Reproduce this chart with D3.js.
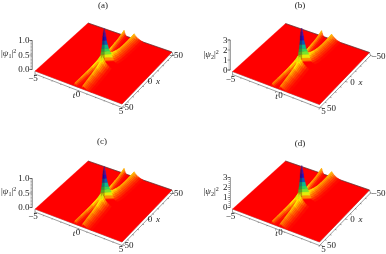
<!DOCTYPE html>
<html>
<head>
<style>
html, body { margin:0; padding:0; background:#fff; }
svg { display:block; filter:blur(0.4px); }
text { font-family:"Liberation Serif", serif; font-size:9px; fill:#222; }
</style>
</head>
<body>
<div id="stage"></div>
<script src="https://cdn.jsdelivr.net/npm/d3@7"></script>
<script>

// ridge samples, x along the ridge, t = position across it
var frontX = [50, 40, 30, 20, 10, 5];
var frontLeftT = [-0.4, -0.35, -0.3, -0.24, -0.17, -0.13];
var frontRightT = [0.5, 0.42, 0.34, 0.26, 0.16, 0.1];
var backLeftX = [-5, -12, -20, -28, -35, -43, -50];
var backLeftT = [-0.1, -0.22, -0.35, -0.44, -0.52, -0.62, -0.7];
var backRightX = [-5, -10, -16, -22, -30, -40, -50];
var backRightT = [0.2, 0.33, 0.4, 0.45, 0.47, 0.49, 0.5];

// heights, |psi1|^2
var psi1Front = [0.12, 0.14, 0.16, 0.19, 0.24, 0.3];
var psi1BackLeft = [0.26, 0.2, 0.17, 0.16, 0.15, 0.16, 0.18];
var psi1BackRight = [0.26, 0.22, 0.18, 0.16, 0.15, 0.16, 0.18];
var psi1PeakZ = [0.04, 0.07, 0.17, 0.28, 0.38, 0.48, 0.62, 0.76, 0.9, 1.03, 1.17];

// heights, |psi2|^2
var psi2Front = [0.36, 0.42, 0.48, 0.57, 0.72, 0.9];
var psi2BackLeft = [0.78, 0.6, 0.51, 0.48, 0.45, 0.48, 0.54];
var psi2BackRight = [0.78, 0.66, 0.54, 0.48, 0.45, 0.48, 0.54];
var psi2PeakZ = [0.12, 0.21, 0.5, 0.84, 1.14, 1.44, 1.86, 2.28, 2.7, 3.09, 3.5];

// peak width left and right of its centre, in t
var peakLeft = [0.42, 0.38, 0.33, 0.29, 0.25, 0.21, 0.17, 0.14, 0.12, 0.09, 0];
var peakRight = [0.85, 0.78, 0.68, 0.58, 0.47, 0.36, 0.27, 0.18, 0.14, 0.09, 0];

// cross section of a ridge, share of its height
var narrowOffset = [-0.14, -0.07, 0, 0.05, 0.1, 0.17, 0.28];
var narrowLevel = [0, 0.5, 1, 0.8, 0.52, 0.22, 0];
var wideOffset = [-0.15, -0.08, 0, 0.08, 0.18, 0.3, 0.45, 0.62, 0.82, 1.05];
var wideLevel = [0, 0.5, 1, 0.85, 0.68, 0.52, 0.36, 0.22, 0.1, 0];

var panelNames = ["(a)", "(b)", "(c)", "(d)"];
var zDomains = [[0, 1], [0, 3], [0, 1], [0, 3]];
var zFormats = [".1f", "d", ".1f", "d"];
var zLabels = ["1", "2", "1", "2"];

var width = 386, height = 254;
var svg = d3.select("#stage").append("svg").attr("width", width).attr("height", height);

var ox = [0, 197.5, 0, 197.5];
var oy = [0, 0.5, 138, 138];
var titleX = [103, 300, 102, 300];
var titleY = [8, 8, 144, 146];

var tScale = d3.scaleLinear().domain([-5, 5]).range([0, 1]);
var xScale = d3.scaleLinear().domain([50, -50]).range([0, 1]);
var hue = d3.scaleLinear()
    .domain([0, 0.17, 0.33, 0.5, 0.67, 0.85, 1])
    .range(["#ff0000", "#ffee00", "#40e040", "#00b0a0", "#1010d0", "#5a10a0", "#70209a"]);

// plane corners of panel (a)
var cLeft = [35, 71], cBottom = [122, 104], cRight = [172, 52], cTop = [88, 23];

function project(t, x, zPx) {
    var u = tScale(t), v = xScale(x);
    var a = d3.interpolateNumber(cLeft[0], cBottom[0])(u);
    var b = d3.interpolateNumber(cTop[0], cRight[0])(u);
    var c = d3.interpolateNumber(cLeft[1], cBottom[1])(u);
    var d = d3.interpolateNumber(cTop[1], cRight[1])(u);
    return [a + (b - a) * v, c + (d - c) * v + zPx];
}

function poly(g, pts, fill) {
    g.append("polygon")
        .attr("points", pts.map(function(p){ return p[0].toFixed(2) + "," + p[1].toFixed(2); }).join(" "))
        .attr("fill", fill)
        .attr("stroke", fill)
        .attr("stroke-width", 0.3);
}

function drawRidge(g, xs, ts, zs, offs, levels, zPx, peak) {
    // back to front so nearer slices cover the others
    var idx = d3.range(xs.length).sort(function(a, b){ return xs[a] - xs[b]; });
    d3.pairs(idx).forEach(function(pair) {
        var i = pair[0], j = pair[1];
        d3.pairs(d3.range(offs.length)).forEach(function(k) {
            var a = k[0], b = k[1];
            var mean = (levels[a] + levels[b]) / 2 * (zs[i] + zs[j]) / 2;
            poly(g, [
                project(ts[i] + offs[a], xs[i], zPx(levels[a] * zs[i])),
                project(ts[i] + offs[b], xs[i], zPx(levels[b] * zs[i])),
                project(ts[j] + offs[b], xs[j], zPx(levels[b] * zs[j])),
                project(ts[j] + offs[a], xs[j], zPx(levels[a] * zs[j]))
            ], hue(mean / peak));
        });
    });
}

function drawPeak(g, zs, zPx, peak) {
    // slices from the foot up, left half in shade
    d3.pairs(d3.range(zs.length)).forEach(function(p) {
        var i = p[0], j = p[1];
        var col = hue((zs[i] + zs[j]) / 2 / peak);
        var l0 = project(-peakLeft[i], 7.2 * peakLeft[i], zPx(zs[i]));
        var l1 = project(-peakLeft[j], 7.2 * peakLeft[j], zPx(zs[j]));
        var r0 = project(peakRight[i], -7.2 * peakRight[i], zPx(zs[i]));
        var r1 = project(peakRight[j], -7.2 * peakRight[j], zPx(zs[j]));
        var m0 = project(0, 0, zPx(zs[i]));
        var m1 = project(0, 0, zPx(zs[j]));
        poly(g, [m0, r0, r1, m1], col);
        poly(g, [l0, m0, m1, l1], d3.color(col).darker(0.9).formatHex());
    });
}

function drawPanel(n) {
    var g = svg.append("g").attr("transform", "translate(" + ox[n] + "," + oy[n] + ")");
    var isFirst = n % 2 == 0;
    var pxPerUnit = isFirst ? 29 : 10;
    var zPx = d3.scaleLinear().domain([0, 1]).range([0, -pxPerUnit]);
    var peakZ = isFirst ? psi1PeakZ : psi2PeakZ;
    var front = isFirst ? psi1Front : psi2Front;
    var backL = isFirst ? psi1BackLeft : psi2BackLeft;
    var backR = isFirst ? psi1BackRight : psi2BackRight;
    var peak = d3.max(peakZ);

    // base slab under the front edges
    var L = project(-5, 50, 0), B = project(5, 50, 0), R = project(5, -50, 0);
    g.append("polygon")
        .attr("points", [L, B, R, [R[0] + 1, R[1] + 3], [B[0], B[1] + 3.5], [L[0], L[1] + 3]].join(" "))
        .attr("fill", "#fff").attr("stroke", "#777").attr("stroke-width", 0.7);

    // red plane
    poly(g, [L, B, R, project(-5, -50, 0)], "#ff0000");
    var Tp = project(-5, -50, 0);
    g.append("line").attr("x1", Tp[0]).attr("y1", Tp[1]).attr("x2", R[0]).attr("y2", R[1])
        .attr("stroke", "#333").attr("stroke-width", 0.6);

    drawRidge(g, backLeftX, backLeftT, backL, narrowOffset, narrowLevel, zPx, peak);
    drawRidge(g, backRightX, backRightT, backR, wideOffset, wideLevel, zPx, peak);
    drawPeak(g, peakZ, zPx, peak);
    drawRidge(g, frontX, frontLeftT, front, narrowOffset, narrowLevel, zPx, peak);
    drawRidge(g, frontX, frontRightT, front, wideOffset, wideLevel, zPx, peak);

    // z axis
    var axX = L[0] - 3 + (isFirst ? 0 : 0.5);
    var axisScale = d3.scaleLinear().domain(zDomains[n]).range([L[1] - 2, L[1] - 2 + zPx(zDomains[n][1])]);
    var minor = g.append("g").attr("transform", "translate(" + axX + ",0)")
        .call(d3.axisLeft(axisScale).ticks(isFirst ? 20 : 15).tickSize(1.5).tickFormat(""));
    var major = g.append("g").attr("transform", "translate(" + axX + ",0)")
        .call(d3.axisLeft(axisScale).ticks(isFirst ? 2 : 3).tickSize(2.5).tickPadding(0).tickFormat(d3.format(zFormats[n])));
    minor.selectAll("line,path").attr("stroke", "#444").attr("stroke-width", 0.5);
    major.selectAll("line,path").attr("stroke", "#444").attr("stroke-width", 0.5);
    minor.select(".domain").remove();
    major.selectAll("text").style("font-family", '"Liberation Serif", serif').style("font-size", "9px").attr("fill", "#222");

    // t and x ticks on the slab
    tScale.ticks(10).forEach(function(t) {
        var p = project(t, 50, 0);
        g.append("line").attr("x1", p[0]).attr("y1", p[1] + 3).attr("x2", p[0] - 0.5).attr("y2", p[1] + (t % 5 ? 4 : 5))
            .attr("stroke", "#444").attr("stroke-width", 0.5);
    });
    d3.scaleLinear().domain([-50, 50]).ticks(10).forEach(function(x) {
        var p = project(5, x, 0);
        g.append("line").attr("x1", p[0] + 0.5).attr("y1", p[1] + 3).attr("x2", p[0] + (x % 50 ? 2 : 3)).attr("y2", p[1] + 3.5)
            .attr("stroke", "#444").attr("stroke-width", 0.5);
    });

    // tick labels
    var shift = isFirst ? 0 : 5;
    function label(x, y, s, italic) {
        var t = g.append("text").attr("x", x).attr("y", y).attr("text-anchor", "middle").text(s);
        if (italic) t.attr("font-style", "italic");
    }
    label(33, 81, "\u22125");
    label(74 + shift, 98, "t", true);
    label(78 + shift, 97, "0");
    label(121.5 + shift - 0.5, 113.5, "5");
    label(130 + shift - 1, 110, "50");
    label(152 + shift - 2, 84, "0");
    label(160 + shift - 2, 84, "x", true);
    label(181 + shift - 5, 58, "\u221250");

    // z title
    var zt = g.append("text").attr("x", isFirst ? 1 : 6).attr("y", 56);
    zt.append("tspan").text("|");
    zt.append("tspan").attr("font-style", "italic").text("\u03c8");
    zt.append("tspan").attr("dy", 2).attr("font-size", "6px").text(zLabels[n]);
    zt.append("tspan").attr("dy", -2).text("|");
    zt.append("tspan").attr("dy", -3).attr("font-size", "6px").text("2");

    svg.append("text").attr("x", titleX[n]).attr("y", titleY[n])
        .attr("text-anchor", "middle").text(panelNames[n]);
}

panelNames.forEach(function(d, i) { drawPanel(i); });

</script>
</body>
</html>
